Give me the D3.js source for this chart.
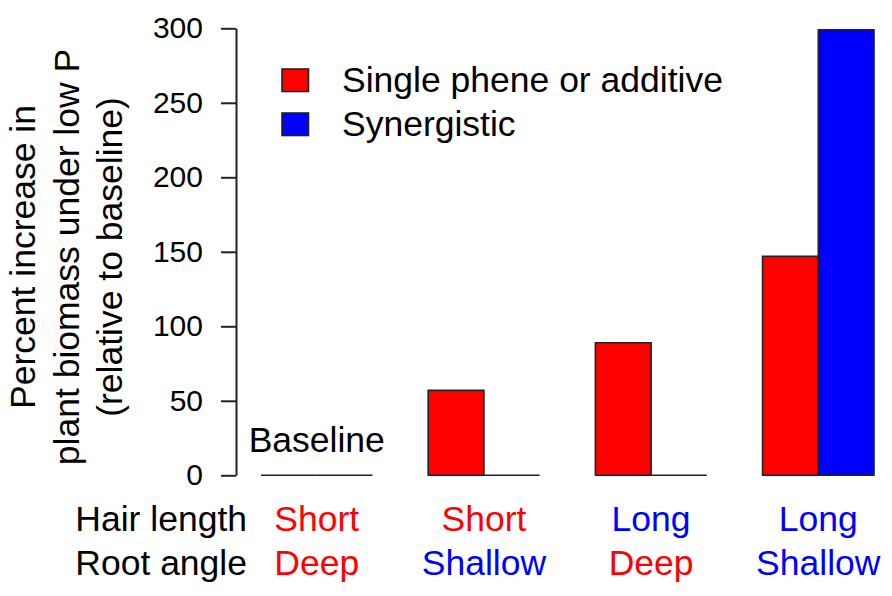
<!DOCTYPE html>
<html>
<head>
<meta charset="utf-8">
<script src="https://cdn.jsdelivr.net/npm/d3@7"></script>
<style>
  body { margin: 0; background: #fff; }
  text { font-family: "Liberation Sans", Arial, sans-serif; }
</style>
</head>
<body>
<div id="chart"></div>
<script>
// values
var hairLength = ["Short", "Short", "Long", "Long"];
var rootAngle = ["Deep", "Shallow", "Deep", "Shallow"];
var singleValues = [0, 57, 89, 147];
var synergisticValues = [0, 0, 0, 299];
var seriesNames = ["Single phene or additive", "Synergistic"];
var yTicks = [0, 50, 100, 150, 200, 250, 300];

var width = 892, height = 596;
var red = "#ff0000", blue = "#0000ff";
var labelColor = { Short: red, Deep: red, Long: blue, Shallow: blue };

var svg = d3.select("#chart")
  .append("svg")
    .attr("width", width)
    .attr("height", height);

// barplot units: one bar = 1, one bar of space before each group
var xScale = d3.scaleLinear().domain([0, 12]).range([205.3, 874]);
var yScale = d3.scaleLinear().domain([0, 300]).range([475.3, 28.3]);

var bars = [];
hairLength.forEach(function(d, i) {
  bars.push({ group: i, pos: 1 + 3 * i, value: singleValues[i], color: red });
  bars.push({ group: i, pos: 2 + 3 * i, value: synergisticValues[i], color: blue });
});

// drawn as paths so that zero-height bars still show as a line
svg.selectAll("path.bar")
  .data(bars)
  .enter()
  .append("path")
    .attr("class", "bar")
    .attr("d", function(d) {
      var x0 = xScale(d.pos), x1 = xScale(d.pos + 1);
      var y0 = yScale(0), y1 = yScale(d.value);
      return "M" + x0 + "," + y0 + "L" + x0 + "," + y1 + "L" + x1 + "," + y1 +
             "L" + x1 + "," + y0 + "Z";
    })
    .attr("fill", function(d) { return d.color; })
    .attr("stroke", "#222")
    .attr("stroke-width", 1.6);

// y axis, R style: line only spans the tick range
var yAxis = svg.append("g")
  .attr("transform", "translate(236,0)")
  .call(d3.axisLeft(yScale).tickValues(yTicks).tickSize(15).tickPadding(18).tickSizeOuter(0));
yAxis.select(".domain").attr("stroke", "#222").attr("stroke-width", 2);
yAxis.selectAll(".tick line").attr("stroke", "#222").attr("stroke-width", 2);
yAxis.selectAll(".tick text")
  .attr("font-size", 30)
  .attr("font-family", "Liberation Sans, Arial, sans-serif")
  .attr("fill", "#000");

// y axis title
var yTitle = ["Percent increase in", "plant biomass under low P", "(relative to baseline)"];
svg.append("g")
  .attr("transform", "translate(0,257) rotate(-90)")
  .selectAll("text")
  .data(yTitle)
  .enter()
  .append("text")
    .attr("x", 0)
    .attr("y", function(d, i) { return 35 + i * 43.5; })
    .attr("text-anchor", "middle")
    .attr("font-size", 35.5)
    .text(function(d) { return d; });

// baseline label
svg.append("text")
  .attr("x", xScale(2))
  .attr("y", 451.7)
  .attr("text-anchor", "middle")
  .attr("font-size", 35.5)
  .text("Baseline");

// category labels
svg.append("text").attr("x", 247).attr("y", 531).attr("text-anchor", "end")
  .attr("font-size", 35.5).text("Hair length");
svg.append("text").attr("x", 247).attr("y", 575).attr("text-anchor", "end")
  .attr("font-size", 35.5).text("Root angle");

svg.selectAll("text.hair")
  .data(hairLength)
  .enter()
  .append("text")
    .attr("class", "hair")
    .attr("x", function(d, i) { return xScale(2 + 3 * i); })
    .attr("y", 531)
    .attr("text-anchor", "middle")
    .attr("font-size", 35.5)
    .attr("fill", function(d) { return labelColor[d]; })
    .text(function(d) { return d; });

svg.selectAll("text.root")
  .data(rootAngle)
  .enter()
  .append("text")
    .attr("class", "root")
    .attr("x", function(d, i) { return xScale(2 + 3 * i); })
    .attr("y", 575)
    .attr("text-anchor", "middle")
    .attr("font-size", 35.5)
    .attr("fill", function(d) { return labelColor[d]; })
    .text(function(d) { return d; });

// legend
var legend = svg.selectAll("g.legend")
  .data(seriesNames)
  .enter()
  .append("g")
    .attr("class", "legend")
    .attr("transform", function(d, i) { return "translate(282," + (69 + i * 44) + ")"; });
legend.append("rect")
  .attr("width", 26.5)
  .attr("height", 22.5)
  .attr("fill", function(d, i) { return i === 0 ? red : blue; })
  .attr("stroke", "#222")
  .attr("stroke-width", 1.6);
legend.append("text")
  .attr("x", 60)
  .attr("y", 23)
  .attr("font-size", 35.5)
  .text(function(d) { return d; });
</script>
</body>
</html>
